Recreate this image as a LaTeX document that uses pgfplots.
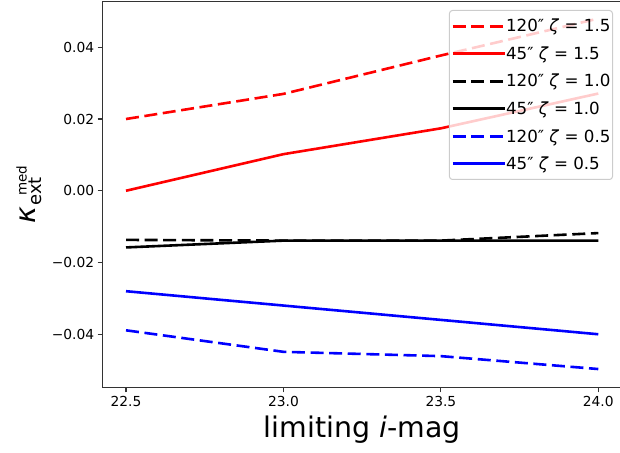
\documentclass[border=0pt]{standalone}
\usepackage{pgfplots}
\pgfplotsset{compat=1.18}
\usepackage{fontspec}
\setmainfont{DejaVu Sans}
\definecolor{mred}{RGB}{255,0,0}
\definecolor{mblue}{RGB}{0,0,255}
\begin{document}
\begin{tikzpicture}
\begin{axis}[
  at={(0pt,0pt)}, anchor=south west,
  scale only axis, width=519.5pt, height=386pt,
  xmin=22.425, xmax=24.075, ymin=-0.0549, ymax=0.0527,
  xtick={22.5,23.0,23.5,24.0}, xticklabels={22.5,23.0,23.5,24.0},
  ytick={-0.04,-0.02,0,0.02,0.04}, yticklabels={−0.04,−0.02,0.00,0.02,0.04},
  /pgf/number format/assume math mode=true,
  tick align=outside, tick pos=left, major tick length=4.7pt,
  every tick/.style={black!80, line width=1.1pt},
  axis line style={black!80, line width=1.1pt},
  ticklabel style={font=\fontsize{13.8}{16}\selectfont},
  xlabel={limiting \textit{i}-mag},
  xlabel style={font=\fontsize{28.4}{32}\selectfont, at={(axis description cs:0.5,0)}, anchor=base, yshift=-49.6pt},
  ylabel={\fontsize{28.4}{32}\selectfont\makebox[18pt][l]{\textit{κ}}\rlap{\raisebox{-6.7pt}{\fontsize{18}{18}\selectfont ext}}\hspace{10pt}\raisebox{8.3pt}{\fontsize{13.5}{14}\selectfont med}},
  ylabel style={at={(axis description cs:-0.1297,0.5)}, anchor=base},
  legend style={at={(axis description cs:1,1)}, anchor=north east, xshift=-8.9pt, yshift=-8.3pt,
    fill=white, fill opacity=0.8, text opacity=1, draw opacity=1, draw=black!20, line width=1pt,
    rounded corners=3pt, inner xsep=2pt, inner ysep=8pt, row sep=12pt, column sep=0pt,
    font=\fontsize{16.7}{20}\selectfont,
    nodes={inner sep=0pt, text height=13.5pt, text depth=2pt}},
  legend cell align=left,
  legend image code/.code={\draw[#1] (0pt,0pt) -- (37pt,0pt); \path (0pt,0pt) -- (52pt,0pt);},
  every axis plot/.append style={line width=2.6pt},
  dashstyle/.style={dash pattern=on 13pt off 5.6pt},
]
\addplot[mred, dashstyle] coordinates {(22.5,0.020) (23.0,0.027) (23.5,0.0377) (24.0,0.048)};
\addlegendentry{120″ \textit{ζ} = 1.5}
\addplot[mred] coordinates {(22.5,0.000) (23.0,0.0102) (23.5,0.0174) (24.0,0.0271)};
\addlegendentry{45″ \textit{ζ} = 1.5}
\addplot[black, dashstyle] coordinates {(22.5,-0.0137) (23.0,-0.0139) (23.5,-0.0139) (24.0,-0.0118)};
\addlegendentry{120″ \textit{ζ} = 1.0}
\addplot[black] coordinates {(22.5,-0.0158) (23.0,-0.0139) (23.5,-0.0139) (24.0,-0.0139)};
\addlegendentry{45″ \textit{ζ} = 1.0}
\addplot[mblue, dashstyle] coordinates {(22.5,-0.0389) (23.0,-0.0449) (23.5,-0.0461) (24.0,-0.0497)};
\addlegendentry{120″ \textit{ζ} = 0.5}
\addplot[mblue] coordinates {(22.5,-0.0280) (23.0,-0.0320) (23.5,-0.0360) (24.0,-0.0400)};
\addlegendentry{45″ \textit{ζ} = 0.5}
\end{axis}
\pgfresetboundingbox
\path[use as bounding box] (-102.4pt,-64.3pt) rectangle (517.6pt,387.7pt);
\end{tikzpicture}
\end{document}
